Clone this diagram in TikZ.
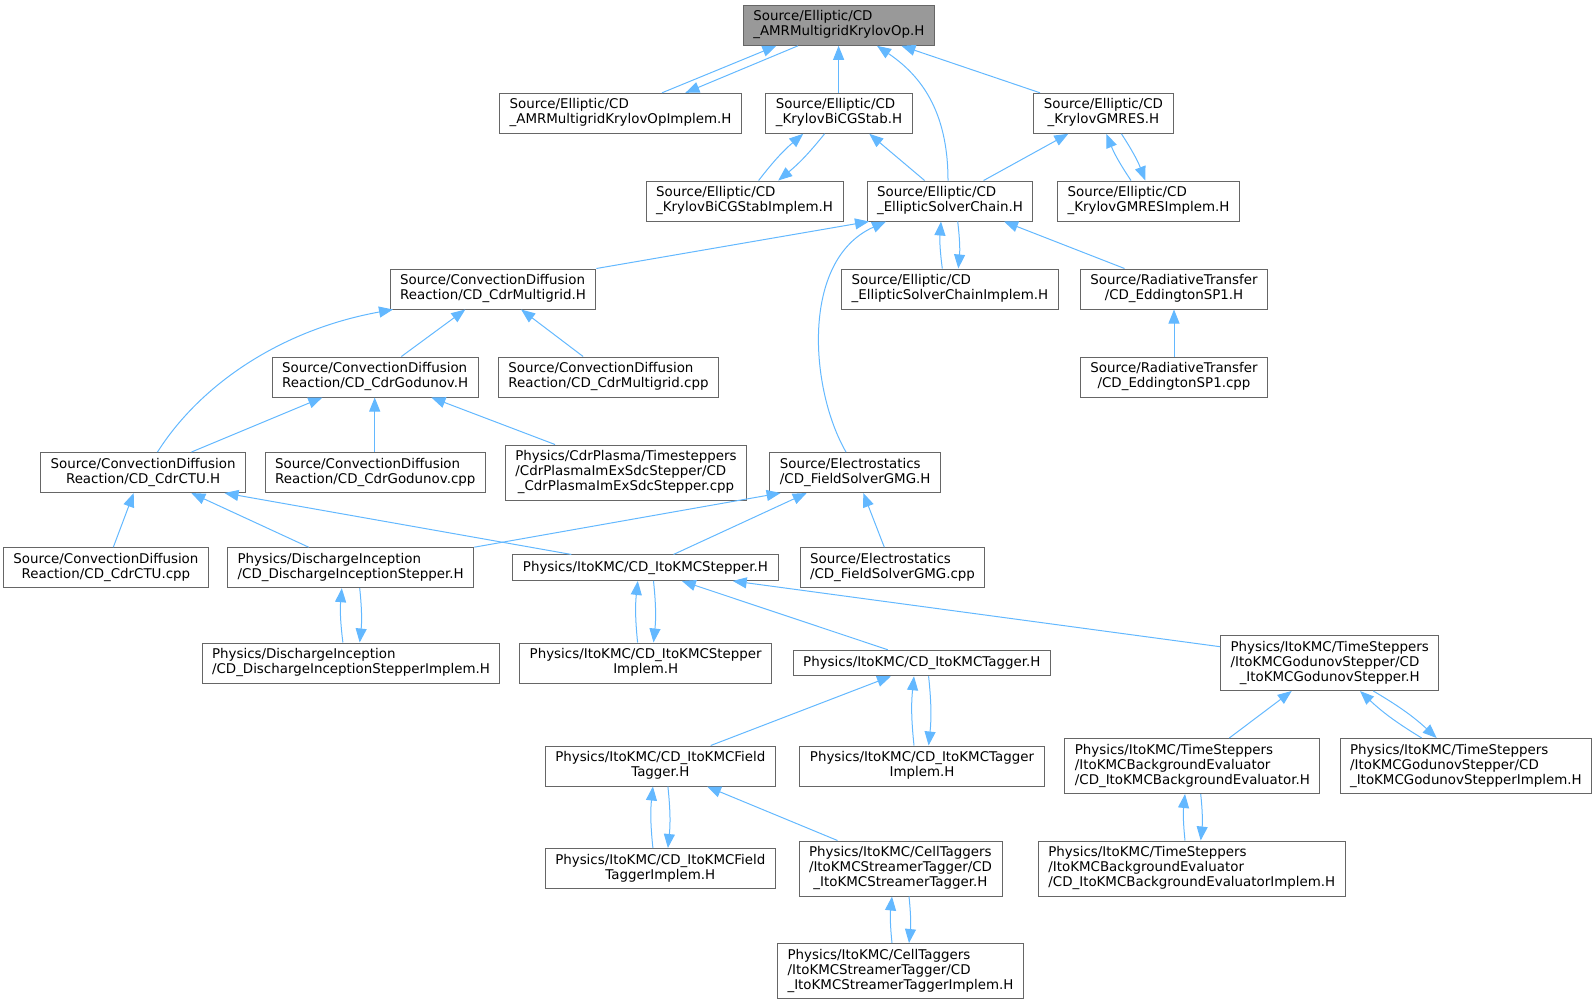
\documentclass[tikz,border=0pt]{standalone}
\usepackage{fontspec}
\setmainfont{DejaVu Sans}
\usetikzlibrary{arrows.meta}
\definecolor{edgeblue}{HTML}{63B8FF}
\definecolor{boxgray}{HTML}{666666}
\definecolor{rootgray}{HTML}{999999}
\newcommand{\twol}[2]{\begin{tabular}{@{}l@{}}#1\\\multicolumn{1}{@{}c@{}}{#2}\end{tabular}}
\newcommand{\threel}[3]{\begin{tabular}{@{}l@{}}#1\\#2\\\multicolumn{1}{@{}c@{}}{#3}\end{tabular}}
\tikzset{
  filebox/.style={draw=boxgray, fill=white, line width=1pt, inner xsep=10pt, inner ysep=2pt,
    minimum height=40pt, font=\fontsize{13.4}{15}\selectfont},
  rootbox/.style={filebox, fill=rootgray},
  oneline/.style={minimum height=25.5pt},
  threeline/.style={minimum height=55pt},
  incl/.style={draw=edgeblue, line width=1pt, -{Triangle[length=14pt,width=11pt]}},
}
\begin{document}
\begin{tikzpicture}[x=1pt,y=-1pt]
        \useasboundingbox (0,0) rectangle (1595,1004);
        %root
        \node[rootbox] (root) at (838.9,25.3) {\twol{Source/Elliptic/CD}{\_AMRMultigridKrylovOp.H}};
        %Elliptic
        \node[filebox] (amrimp) at (620.5,113.3) {\twol{Source/Elliptic/CD}{\_AMRMultigridKrylovOpImplem.H}};
        \node[filebox] (bicg) at (839.1,113.3) {\twol{Source/Elliptic/CD}{\_KrylovBiCGStab.H}};
        \node[filebox] (gmres) at (1103.4,113.3) {\twol{Source/Elliptic/CD}{\_KrylovGMRES.H}};
        \node[filebox] (bicgimp) at (744.6,201) {\twol{Source/Elliptic/CD}{\_KrylovBiCGStabImplem.H}};
        \node[filebox] (esc) at (950,201) {\twol{Source/Elliptic/CD}{\_EllipticSolverChain.H}};
        \node[filebox] (gmresimp) at (1148.5,201) {\twol{Source/Elliptic/CD}{\_KrylovGMRESImplem.H}};
        \node[filebox] (escimp) at (949.9,289) {\twol{Source/Elliptic/CD}{\_EllipticSolverChainImplem.H}};
        %Radiative transfer
        \node[filebox] (edd) at (1174,289) {\twol{Source/RadiativeTransfer}{/CD\_EddingtonSP1.H}};
        \node[filebox] (eddcpp) at (1174,377) {\twol{Source/RadiativeTransfer}{/CD\_EddingtonSP1.cpp}};
        %CDR
        \node[filebox] (cdrmg) at (493,289) {\twol{Source/ConvectionDiffusion}{Reaction/CD\_CdrMultigrid.H}};
        \node[filebox] (cdrgod) at (375.2,377) {\twol{Source/ConvectionDiffusion}{Reaction/CD\_CdrGodunov.H}};
        \node[filebox] (cdrmgcpp) at (608.5,377) {\twol{Source/ConvectionDiffusion}{Reaction/CD\_CdrMultigrid.cpp}};
        \node[filebox] (cdrctu) at (143.1,472.5) {\twol{Source/ConvectionDiffusion}{Reaction/CD\_CdrCTU.H}};
        \node[filebox] (cdrgodcpp) at (375.3,472.5) {\twol{Source/ConvectionDiffusion}{Reaction/CD\_CdrGodunov.cpp}};
        \node[filebox,threeline] (plasma) at (626,472.5) {\threel{Physics/CdrPlasma/Timesteppers}{/CdrPlasmaImExSdcStepper/CD}{\_CdrPlasmaImExSdcStepper.cpp}};
        \node[filebox] (ctucpp) at (105.9,567.7) {\twol{Source/ConvectionDiffusion}{Reaction/CD\_CdrCTU.cpp}};
        %Electrostatics
        \node[filebox] (fsg) at (855.2,472.5) {\twol{Source/Electrostatics}{/CD\_FieldSolverGMG.H}};
        \node[filebox] (fsgcpp) at (892.5,567.7) {\twol{Source/Electrostatics}{/CD\_FieldSolverGMG.cpp}};
        %Physics
        \node[filebox] (distep) at (350.7,567.7) {\twol{Physics/DischargeInception}{/CD\_DischargeInceptionStepper.H}};
        \node[filebox,oneline] (itostep) at (645.5,567.7) {Physics/ItoKMC/CD\_ItoKMCStepper.H};
        \node[filebox] (distepimp) at (351,663) {\twol{Physics/DischargeInception}{/CD\_DischargeInceptionStepperImplem.H}};
        \node[filebox] (itostepimp) at (645.7,663) {\twol{Physics/ItoKMC/CD\_ItoKMCStepper}{Implem.H}};
        \node[filebox,oneline] (itotag) at (921.8,663) {Physics/ItoKMC/CD\_ItoKMCTagger.H};
        \node[filebox,threeline] (godstep) at (1329.7,663) {\threel{Physics/ItoKMC/TimeSteppers}{/ItoKMCGodunovStepper/CD}{\_ItoKMCGodunovStepper.H}};
        \node[filebox] (fieldtag) at (660.3,766) {\twol{Physics/ItoKMC/CD\_ItoKMCField}{Tagger.H}};
        \node[filebox] (tagimp) at (922,766) {\twol{Physics/ItoKMC/CD\_ItoKMCTagger}{Implem.H}};
        \node[filebox,threeline] (bgeval) at (1192.4,766) {\threel{Physics/ItoKMC/TimeSteppers}{/ItoKMCBackgroundEvaluator}{/CD\_ItoKMCBackgroundEvaluator.H}};
        \node[filebox,threeline] (godstepimp) at (1465.9,766) {\threel{Physics/ItoKMC/TimeSteppers}{/ItoKMCGodunovStepper/CD}{\_ItoKMCGodunovStepperImplem.H}};
        \node[filebox] (fieldtagimp) at (660.3,868.5) {\twol{Physics/ItoKMC/CD\_ItoKMCField}{TaggerImplem.H}};
        \node[filebox,threeline] (streamtag) at (900.5,868.5) {\threel{Physics/ItoKMC/CellTaggers}{/ItoKMCStreamerTagger/CD}{\_ItoKMCStreamerTagger.H}};
        \node[filebox,threeline] (bgevalimp) at (1191.8,868.5) {\threel{Physics/ItoKMC/TimeSteppers}{/ItoKMCBackgroundEvaluator}{/CD\_ItoKMCBackgroundEvaluatorImplem.H}};
        \node[filebox,threeline] (streamtagimp) at (900.5,971) {\threel{Physics/ItoKMC/CellTaggers}{/ItoKMCStreamerTagger/CD}{\_ItoKMCStreamerTaggerImplem.H}};

        %includes
        \draw[incl] (amrimp.north -| 662,0) -- (root.south -| 776.4,0);
        \draw[incl] (root.south -| 798,0) -- (amrimp.north -| 685.4,0);
        \draw[incl] (bicg.north -| 838.6,0) -- (root.south -| 838.6,0);
        \draw[incl] (esc.north -| 948,0) .. controls (948,110) and (920,75) .. (root.south -| 877,0);
        \draw[incl] (gmres.north -| 1040,0) -- (root.south -| 901.4,0);
        \draw[incl] (bicgimp.north -| 758.6,0) to[bend left=6] (bicg.south -| 803.2,0);
        \draw[incl] (bicg.south -| 824.6,0) to[bend left=6] (bicgimp.north -| 778.2,0);
        \draw[incl] (esc.north -| 924.6,0) -- (bicg.south -| 869.3,0);
        \draw[incl] (esc.north -| 983.6,0) -- (gmres.south -| 1068.3,0);
        \draw[incl] (gmresimp.north -| 1131,0) to[bend left=6] (gmres.south -| 1106.3,0);
        \draw[incl] (gmres.south -| 1121.4,0) to[bend left=6] (gmresimp.north -| 1145.3,0);
        \draw[incl] (cdrmg.north east) -- (esc.south -| 869,0);
        \draw[incl] (fsg.north -| 846,0) .. controls (810,390) and (800,260) .. (esc.south -| 886,0);
        \draw[incl] (escimp.north -| 942.3,0) to[bend left=6] (esc.south -| 941,0);
        \draw[incl] (esc.south -| 957.7,0) to[bend left=6] (escimp.north -| 958.3,0);
        \draw[incl] (edd.north -| 1124.5,0) -- (esc.south -| 1004,0);
        \draw[incl] (eddcpp.north) -- (edd.south);
        \draw[incl] (cdrgod.north -| 401.4,0) -- (cdrmg.south -| 465.3,0);
        \draw[incl] (cdrmgcpp.north -| 583.1,0) -- (cdrmg.south -| 521.1,0);
        \draw[incl] (cdrctu.north -| 157.5,0) .. controls (200,385) and (280,330) .. (cdrmg.south -| 393,0);
        \draw[incl] (cdrctu.north -| 191.5,0) -- (cdrgod.south -| 322.3,0);
        \draw[incl] (cdrgodcpp.north -| 374.7,0) -- (cdrgod.south -| 374.7,0);
        \draw[incl] (plasma.north -| 555,0) -- (cdrgod.south -| 431.4,0);
        \draw[incl] (ctucpp.north -| 113.3,0) -- (cdrctu.south -| 133.7,0);
        \draw[incl] (distep.north -| 308.7,0) -- (cdrctu.south -| 191.3,0);
        \draw[incl] (itostep.north -| 571.4,0) -- (cdrctu.south -| 224.5,0);
        \draw[incl] (distep.north east) -- (fsg.south -| 780.6,0);
        \draw[incl] (itostep.north -| 673.5,0) -- (fsg.south -| 806.7,0);
        \draw[incl] (fsgcpp.north -| 884.3,0) -- (fsg.south -| 863.3,0);
        \draw[incl] (distepimp.north -| 342.9,0) to[bend left=6] (distep.south -| 341.8,0);
        \draw[incl] (distep.south -| 359.7,0) to[bend left=6] (distepimp.north -| 359.7,0);
        \draw[incl] (itostepimp.north -| 637.6,0) to[bend left=6] (itostep.south -| 637.8,0);
        \draw[incl] (itostep.south -| 653.5,0) to[bend left=6] (itostepimp.north -| 653.5,0);
        \draw[incl] (itotag.north -| 887.8,0) -- (itostep.south -| 681.8,0);
        \draw[incl] (godstep.west |- 0,646.7) -- (itostep.south -| 732.7,0);
        \draw[incl] (fieldtag.north -| 710.7,0) -- (itotag.south -| 891,0);
        \draw[incl] (tagimp.north -| 914,0) to[bend left=6] (itotag.south -| 914,0);
        \draw[incl] (itotag.south -| 928.6,0) to[bend left=6] (tagimp.north -| 928.6,0);
        \draw[incl] (fieldtagimp.north -| 652.9,0) to[bend left=6] (fieldtag.south -| 652.9,0);
        \draw[incl] (fieldtag.south -| 667.9,0) to[bend left=6] (fieldtagimp.north -| 667.9,0);
        \draw[incl] (streamtag.north -| 837.5,0) -- (fieldtag.south -| 707,0);
        \draw[incl] (streamtagimp.north -| 892,0) to[bend left=6] (streamtag.south -| 892,0);
        \draw[incl] (streamtag.south -| 909,0) to[bend left=6] (streamtagimp.north -| 909,0);
        \draw[incl] (bgeval.north -| 1229.3,0) -- (godstep.south -| 1291.7,0);
        \draw[incl] (godstepimp.north -| 1421.7,0) to[bend left=6] (godstep.south -| 1360,0);
        \draw[incl] (godstep.south -| 1373.3,0) to[bend left=6] (godstepimp.north -| 1436.7,0);
        \draw[incl] (bgevalimp.north -| 1185,0) to[bend left=6] (bgeval.south -| 1185,0);
        \draw[incl] (bgeval.south -| 1200.7,0) to[bend left=6] (bgevalimp.north -| 1200.7,0);
    \end{tikzpicture}
\end{document}
